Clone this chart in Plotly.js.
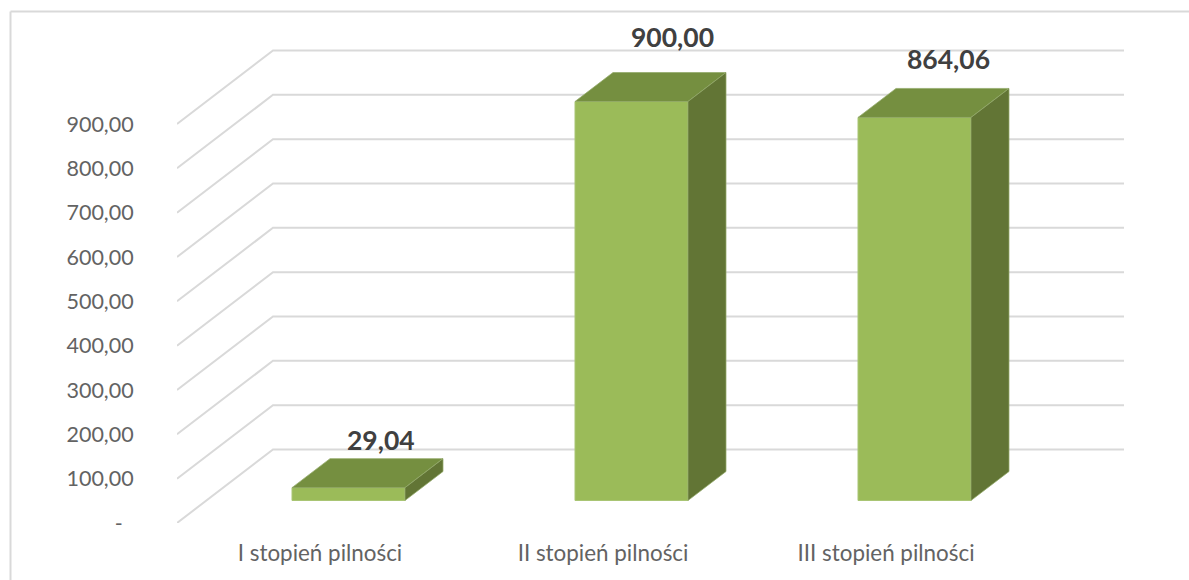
<!DOCTYPE html>
<html>
<head>
<meta charset="utf-8">
<script src="https://cdn.plot.ly/plotly-3.0.1.min.js"></script>
<style>html,body{margin:0;padding:0;background:#fff;overflow:hidden}</style>
</head>
<body>
<div id="chart" style="width:1189px;height:580px"></div>
<script>
const categories = ["I stopień pilności", "II stopień pilności", "III stopień pilności"];
const values = [29.04, 900.00, 864.06];
const tickValues = [0, 100, 200, 300, 400, 500, 600, 700, 800, 900];
const tickLabels = ["-\u00a0\u00a0", "100,00", "200,00", "300,00", "400,00", "500,00", "600,00", "700,00", "800,00", "900,00"];

// Pseudo-3D projection, in pixels per data unit
const W = 1189, H = 580;
const M = {l: 177, r: 59, t: 40, b: 57};
const pxPerCat = 283, pxPerVal = 399 / 900, firstCatPx = 320;
const dX = px => px / pxPerCat, dY = px => px / pxPerVal;
const xRange = [dX(M.l - firstCatPx), dX(W - M.r - firstCatPx)];
const yRange = [0, dY(H - M.b - M.t)];

const barShift = dX(28.5), barWidth = dX(113), barBase = dY(22.5);
const depthX = dX(38), depthY = dY(29);
const wallX = dX(96), wallY = dY(73.5), wallWidth = dX(851);

const fmt = v => v.toFixed(2).replace(".", ",");
const GRID = "#d9d9d9", FRONT = "#9bbb59", TOP = "#758f40", SIDE = "#627535", EDGE = "#93a96a";

const gridShapes = tickValues.map(v => ({
  type: "path", layer: "below", xref: "x", yref: "y",
  path: `M${xRange[0]},${v} L${xRange[0] + wallX},${v + wallY} L${xRange[0] + wallX + wallWidth},${v + wallY}`,
  line: {color: GRID, width: 2}
}));

const frameShapes = [
  {type: "line", xref: "paper", yref: "paper",
   x0: (10.5 - M.l) / (W - M.l - M.r), x1: (10.5 - M.l) / (W - M.l - M.r),
   y0: -M.b / (H - M.t - M.b), y1: (H - M.b - 11.5) / (H - M.t - M.b),
   line: {color: GRID, width: 2}},
  {type: "line", xref: "paper", yref: "paper",
   x0: (10.5 - M.l) / (W - M.l - M.r), x1: (W - M.l) / (W - M.l - M.r),
   y0: (H - M.b - 11.5) / (H - M.t - M.b), y1: (H - M.b - 11.5) / (H - M.t - M.b),
   line: {color: GRID, width: 2}}
];

const barX = categories.map((c, i) => i + barShift);
const traces = [{
  type: "bar", x: barX, y: values, base: values.map(() => barBase), width: barWidth,
  marker: {color: FRONT, line: {color: "#a9c574", width: 1}},
  hoverinfo: "skip", showlegend: false
}];

values.forEach((v, i) => {
  const l = barX[i] - barWidth / 2, r = barX[i] + barWidth / 2;
  const b = barBase, t = barBase + v;
  traces.push({
    type: "scatter", mode: "lines", fill: "toself", fillcolor: TOP,
    x: [l, r, r + depthX, l + depthX, l],
    y: [t, t, t + depthY, t + depthY, t],
    line: {color: EDGE, width: 0.75}, hoverinfo: "skip", showlegend: false
  });
  traces.push({
    type: "scatter", mode: "lines", fill: "toself", fillcolor: SIDE,
    x: [r, r + depthX, r + depthX, r, r],
    y: [b, b + depthY, t + depthY, t, b],
    line: {color: EDGE, width: 0.75}, hoverinfo: "skip", showlegend: false
  });
});

const labelNudgeX = [32, 41, 34], labelNudgeY = [48, 65, 58];
const annotations = values.map((v, i) => ({
  x: barX[i], y: barBase + v, xref: "x", yref: "y", showarrow: false,
  text: "<b>" + fmt(v) + "</b>",
  xshift: labelNudgeX[i], yshift: labelNudgeY[i],
  font: {family: "Lato, sans-serif", size: 26.5, color: "#404040"}
}));

const layout = {
  width: W, height: H, autosize: false, margin: M,
  paper_bgcolor: "#fff", plot_bgcolor: "rgba(0,0,0,0)",
  showlegend: false, bargap: 0, hovermode: false,
  xaxis: {
    range: xRange, tickmode: "array", tickvals: categories.map((c, i) => i), ticktext: categories,
    showgrid: false, zeroline: false, showline: false, ticks: "outside", ticklen: 10,
    tickcolor: "rgba(0,0,0,0)", tickangle: 0,
    tickfont: {family: "Lato, sans-serif", size: 22.4, color: "#636363"}
  },
  yaxis: {
    range: yRange, tickmode: "array", tickvals: tickValues, ticktext: tickLabels,
    showgrid: false, zeroline: false, showline: false, ticks: "outside", ticklen: 38,
    tickcolor: "rgba(0,0,0,0)",
    tickfont: {family: "Lato, sans-serif", size: 21.5, color: "#636363"}
  },
  shapes: gridShapes.concat(frameShapes),
  annotations: annotations
};

Plotly.newPlot("chart", traces, layout, {displayModeBar: false, staticPlot: true});
</script>
</body>
</html>
